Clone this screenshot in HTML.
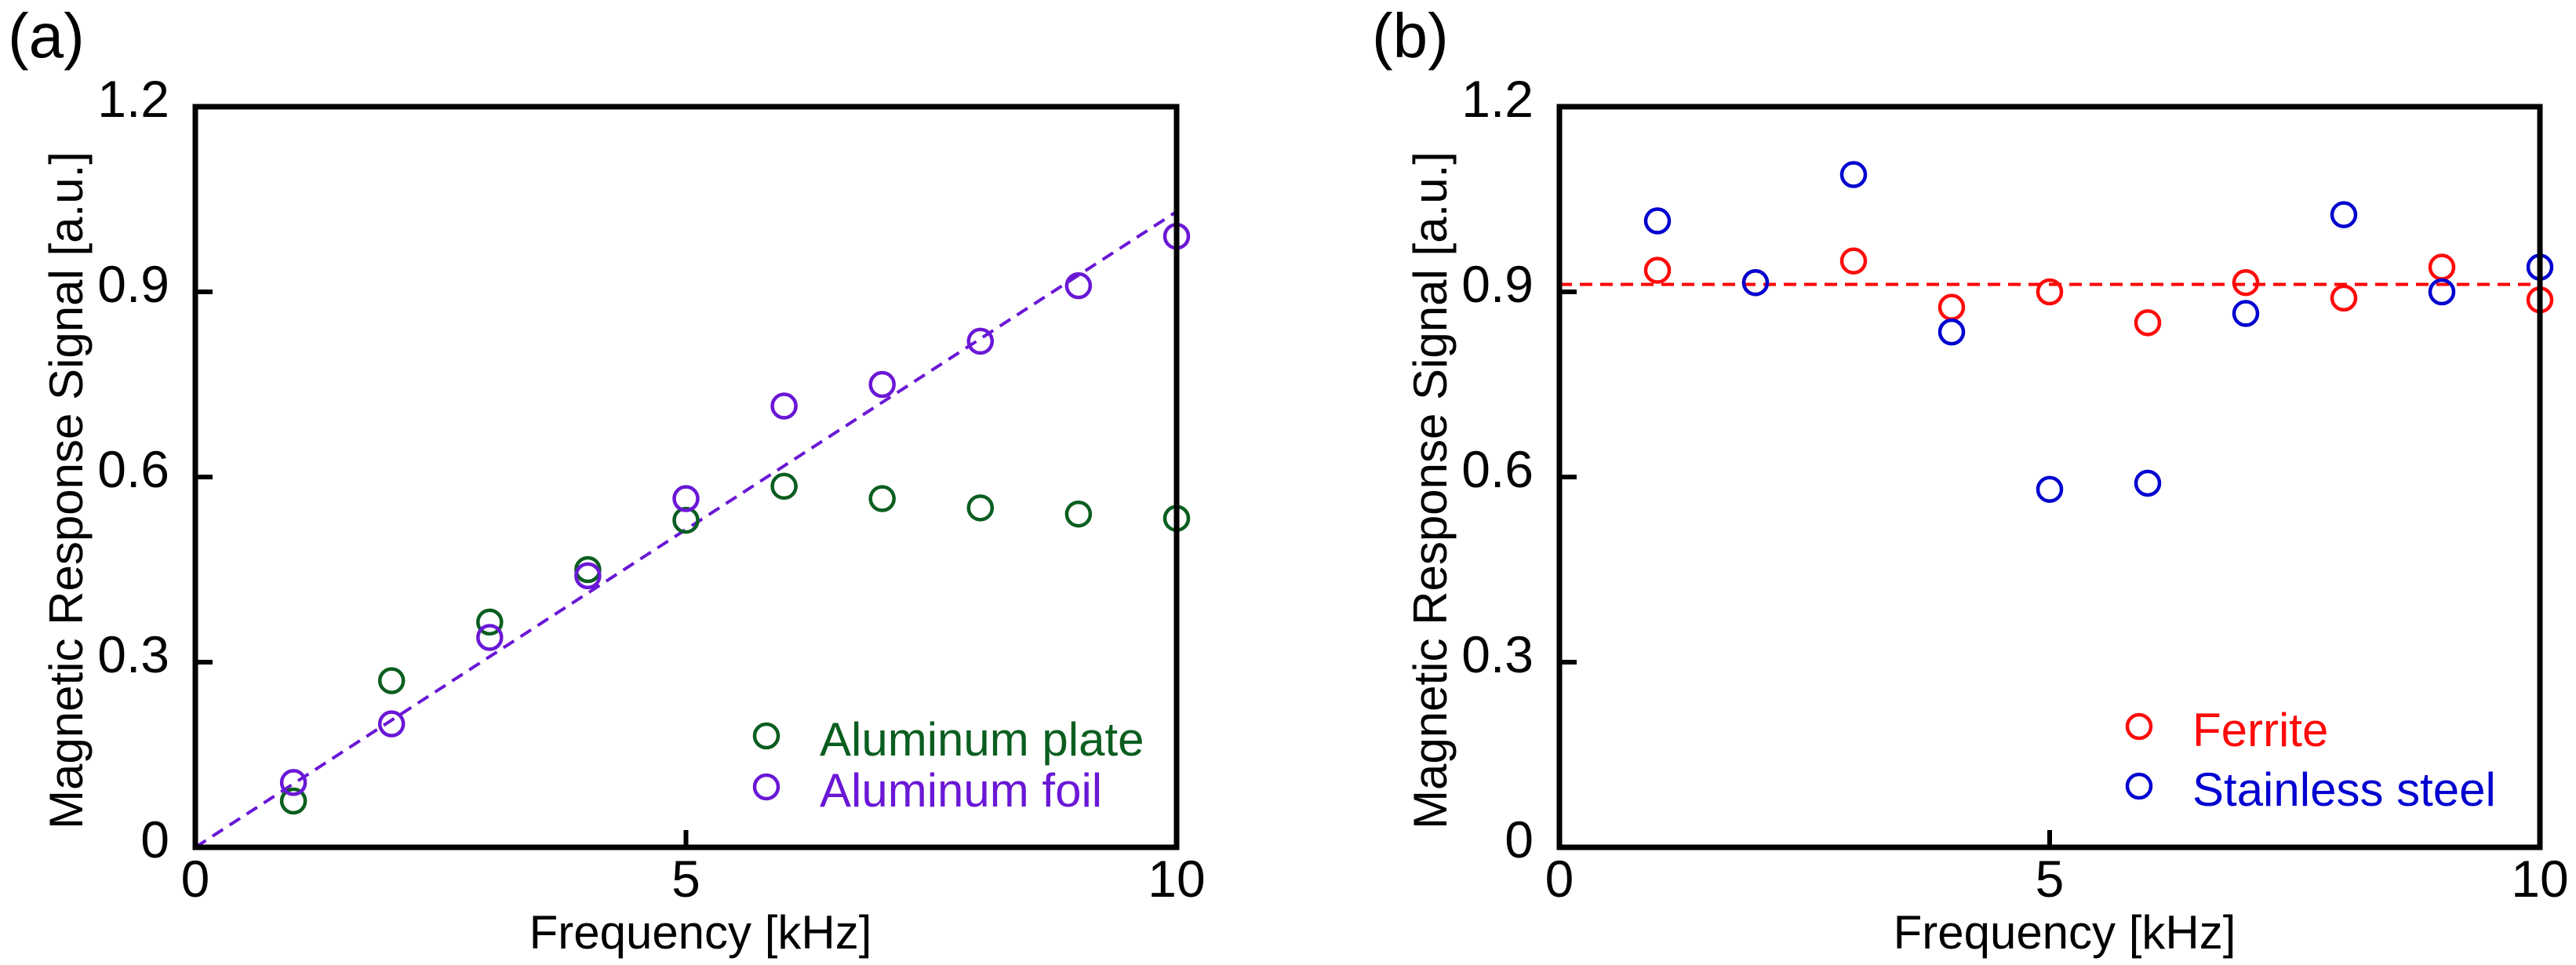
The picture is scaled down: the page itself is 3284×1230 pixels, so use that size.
<!DOCTYPE html>
<html><head><meta charset="utf-8"><style>
html,body{margin:0;padding:0;background:#fff;}
svg{display:block;}
text{font-family:"Liberation Sans",Arial,sans-serif;}
</style></head><body>
<svg id="fig" width="3284" height="1230" viewBox="0 0 3284 1230" xmlns="http://www.w3.org/2000/svg"></svg>
<script>
const freqs = [1,2,3,4,5,6,7,8,9,10];
const plateVals = [0.075,0.27,0.365,0.45,0.53,0.585,0.565,0.55,0.54,0.533];
const foilVals = [0.105,0.2,0.34,0.44,0.565,0.715,0.75,0.82,0.91,0.99];
const foilFit = [[0,0],[10,1.03]];
const ferriteVals = [0.935,0.915,0.95,0.875,0.9,0.85,0.915,0.89,0.94,0.887];
const steelVals = [1.015,0.915,1.09,0.835,0.58,0.59,0.865,1.025,0.9,0.94];
const ferriteFit = [[0,0.912],[10,0.912]];
const xTicks = [0,5,10];
const xTickLabels = ["0","5","10"];
const yTicks = [0,0.3,0.6,0.9,1.2];
const yTickLabels = ["0","0.3","0.6","0.9","1.2"];

const NS="http://www.w3.org/2000/svg";
const svg=document.getElementById('fig');
function mk(tag,attrs,parent){const e=document.createElementNS(NS,tag);for(const k in attrs)e.setAttribute(k,attrs[k]);(parent||svg).appendChild(e);return e;}

function panel(cfg){
  const x0=cfg.left,x1=cfg.right,y0=1080,y1=136;
  const sx=v=>x0+(v-0)/(10-0)*(x1-x0);
  const sy=v=>y0-(v-0)/(1.2-0)*(y0-y1);
  const g=mk('g',{});
  
  
  // panel label
  const pl=mk('text',{x:cfg.left-239,y:73,'font-size':80,fill:'#000'},g);
  pl.textContent=cfg.label;
  
  
  // ticks
  xTicks.forEach((t,i)=>{
    const tk=mk('line',{x1:sx(t),x2:sx(t),y1:y0,y2:y0-22,stroke:'#000','stroke-width':6},g);
    
    
    const lb=mk('text',{x:sx(t),y:1143,'font-size':66,'text-anchor':'middle',fill:'#000'},g);
    lb.textContent=xTickLabels[i];
    
    
  });
  yTicks.forEach((t,i)=>{
    const tk=mk('line',{x1:x0,x2:x0+22,y1:sy(t),y2:sy(t),stroke:'#000','stroke-width':6},g);
    
    
    const lb=mk('text',{x:x0-33,y:sy(t)+13,'font-size':66,'text-anchor':'end',fill:'#000'},g);
    lb.textContent=yTickLabels[i];
    
    
  });
  // axis titles
  const xt=mk('text',{x:x0+644,y:1209,'font-size':60,'text-anchor':'middle',fill:'#000'},g);
  xt.textContent='Frequency [kHz]';
  
  
  const yt=mk('text',{x:0,y:0,'font-size':60,'text-anchor':'middle',fill:'#000',transform:`translate(${x0-144},625) rotate(-90)`},g);
  yt.textContent='Magnetic Response Signal [a.u.]';
  
  
  // fit line
  const fl=mk('line',{x1:sx(cfg.fit[0][0]),y1:sy(cfg.fit[0][1]),x2:sx(cfg.fit[1][0]),y2:sy(cfg.fit[1][1]),stroke:cfg.fitColor,'stroke-width':4,'stroke-dasharray':'16,10'},g);
  
  
  // series
  cfg.series.forEach(s=>{
    const sg=mk('g',{},g);
    
    
    s.vals.forEach((v,i)=>{
      const c=mk('circle',{cx:sx(freqs[i]),cy:sy(v),r:15,fill:'none',stroke:s.color,'stroke-width':4.5},sg);
      
      
    });
    const lm=mk('circle',{cx:cfg.legX,cy:s.legY,r:15,fill:'none',stroke:s.color,'stroke-width':4.5},g);
    
    
    const lt=mk('text',{x:cfg.legX+68,y:s.legY+25,'font-size':60,fill:s.color},g);
    lt.textContent=s.label;
    
    
  });
  // frame
  const fr=mk('rect',{x:x0,y:y1,width:x1-x0,height:y0-y1,fill:'none',stroke:'#000','stroke-width':7},g);
  
  
}
panel({name:'panel-a',label:'(a)',left:249,right:1500,fit:foilFit,fitColor:'#6a17d6',legX:977,
  series:[{name:'aluminum-plate',label:'Aluminum plate',vals:plateVals,color:'#0a5e1f',legY:938},
          {name:'aluminum-foil',label:'Aluminum foil',vals:foilVals,color:'#6a17d6',legY:1003}]});
panel({name:'panel-b',label:'(b)',left:1988,right:3238,fit:ferriteFit,fitColor:'#ff0000',legX:2727,
  series:[{name:'ferrite',label:'Ferrite',vals:ferriteVals,color:'#ff0a0a',legY:926},
          {name:'stainless-steel',label:'Stainless steel',vals:steelVals,color:'#0000d0',legY:1002}]});
</script>
</body></html>
